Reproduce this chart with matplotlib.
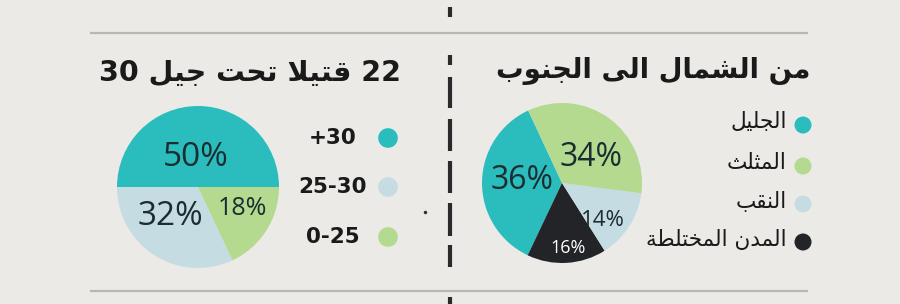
import numpy as np
import matplotlib
matplotlib.use("Agg")
import matplotlib.pyplot as plt

# ---------------- data ----------------
age_title = "22 قتيلا تحت جيل 30"
age_labels = ["+30", "25-30", "0-25"]
age_values = [50, 32, 18]

region_title = "من الشمال الى الجنوب"
region_labels = ["الجليل", "المثلث", "النقب", "المدن المختلطة"]
region_values = [36, 34, 14, 16]

# ---------------- style ----------------
BG = "#ebeae6"
TEAL = "#2bbdbd"
LBLUE = "#c6dce3"
GREEN = "#b3da8e"
BLACK = "#222428"
TXT = "#1b2d31"

age_colors = [TEAL, LBLUE, GREEN]
region_colors = [TEAL, GREEN, LBLUE, BLACK]
region_pie_order = [0, 3, 2, 1]   # drawing order around the pie

# ---------------- Arabic shaping (presentation forms) ----------------
FORMS = {
    'ا': ('\uFE8D', '\uFE8E', None, None),
    'ب': ('\uFE8F', '\uFE90', '\uFE91', '\uFE92'),
    'ة': ('\uFE93', '\uFE94', None, None),
    'ت': ('\uFE95', '\uFE96', '\uFE97', '\uFE98'),
    'ث': ('\uFE99', '\uFE9A', '\uFE9B', '\uFE9C'),
    'ج': ('\uFE9D', '\uFE9E', '\uFE9F', '\uFEA0'),
    'ح': ('\uFEA1', '\uFEA2', '\uFEA3', '\uFEA4'),
    'خ': ('\uFEA5', '\uFEA6', '\uFEA7', '\uFEA8'),
    'د': ('\uFEA9', '\uFEAA', None, None),
    'ش': ('\uFEB5', '\uFEB6', '\uFEB7', '\uFEB8'),
    'ط': ('\uFEC1', '\uFEC2', '\uFEC3', '\uFEC4'),
    'ق': ('\uFED5', '\uFED6', '\uFED7', '\uFED8'),
    'ل': ('\uFEDD', '\uFEDE', '\uFEDF', '\uFEE0'),
    'م': ('\uFEE1', '\uFEE2', '\uFEE3', '\uFEE4'),
    'ن': ('\uFEE5', '\uFEE6', '\uFEE7', '\uFEE8'),
    'و': ('\uFEED', '\uFEEE', None, None),
    'ى': ('\uFEEF', '\uFEF0', None, None),
    'ي': ('\uFEF1', '\uFEF2', '\uFEF3', '\uFEF4'),
}
LAMALEF = ('\uFEFB', '\uFEFC', None, None)


def shape_word(w):
    toks = []
    i = 0
    while i < len(w):
        if w[i] == 'ل' and i + 1 < len(w) and w[i + 1] == 'ا':
            toks.append(LAMALEF)
            i += 2
        else:
            toks.append(FORMS.get(w[i], (w[i], w[i], None, None)))
            i += 1
    out = []
    for k, f in enumerate(toks):
        pj = k > 0 and toks[k - 1][2] is not None
        nj = f[2] is not None and k + 1 < len(toks)
        if pj and nj:
            out.append(f[3])
        elif pj:
            out.append(f[1])
        elif nj:
            out.append(f[2])
        else:
            out.append(f[0])
    return "".join(out)


def rtl(text):
    parts = []
    for tok in text.split(" "):
        if any(c in FORMS for c in tok):
            parts.append(shape_word(tok)[::-1])
        else:
            parts.append(tok)
    return " ".join(parts[::-1])


# ---------------- figure ----------------
W, H = 900, 304
fig = plt.figure(figsize=(W / 100, H / 100), dpi=100)
fig.patch.set_facecolor(BG)

ov = fig.add_axes([0, 0, 1, 1])
ov.set_xlim(0, W)
ov.set_ylim(H, 0)
ov.axis("off")
ov.set_facecolor(BG)

# separators
for yy in (33, 291):
    ov.plot([90, 808], [yy, yy], color="#b9b7b1", lw=1.6, solid_capstyle="butt")
segs = [(7, 17), (55, 65), (77, 108), (119, 151), (161, 193), (203, 236), (245, 267), (297, 304)]
for a, b in segs:
    ov.plot([450, 450], [a, b], color="#2a2a2a", lw=3.0, solid_capstyle="butt")
ov.plot([425], [212], marker="o", ms=1.5, color="#333333")

ARFONT = "DejaVu Sans"

# titles
ov.text(401, 73, rtl(age_title), ha="right", va="center", fontsize=20.5,
        fontweight="bold", family=ARFONT, color="#1a1a1a")
ov.text(810, 71, rtl(region_title), ha="right", va="center", fontsize=19.8,
        fontweight="bold", family=ARFONT, color="#1a1a1a")

# left legend
age_y = [138, 187, 237]
for lab, col, yy in zip(age_labels, age_colors, age_y):
    ov.scatter([388], [yy], s=200, color=col, edgecolors="none")
    ov.text(333, yy, lab, ha="center", va="center", fontsize=15.5,
            fontweight="bold", family="DejaVu Sans", color="#1a1a1a")

# right legend
reg_y = [125, 166, 204, 242]
for lab, col, yy in zip(region_labels, region_colors, reg_y):
    ov.scatter([803], [yy], s=150, color=col, edgecolors="none")
    ov.text(787, yy - 3, rtl(lab), ha="right", va="center", fontsize=15.6,
            family=ARFONT, color="#1a1a1a")


def px_axes(cx, cy, r):
    return fig.add_axes([(cx - r) / W, (H - cy - r) / H, 2 * r / W, 2 * r / H])


PCTFONT = dict(family="Open Sans", fontweight="normal")

# left pie
axL = px_axes(198, 187, 81)
wedgesL, _ = axL.pie(age_values, colors=age_colors, startangle=0, counterclock=True,
                     wedgeprops=dict(linewidth=0))
axL.set_xlim(-1, 1); axL.set_ylim(-1, 1); axL.set_aspect("equal"); axL.axis("off")
left_style = [(0.37, 4, 24, TXT), (0.5, -10, 24, TXT), (0.61, 7, 18, TXT)]
for w, v, (d, da, fs, c) in zip(wedgesL, age_values, left_style):
    ang = np.deg2rad((w.theta1 + w.theta2) / 2 + da)
    axL.text(d * np.cos(ang), d * np.sin(ang), f"{v}%", ha="center", va="center",
             fontsize=fs, color=c, **PCTFONT)

# right pie
axR = px_axes(562, 183, 80)
vals = [region_values[i] for i in region_pie_order]
cols = [region_colors[i] for i in region_pie_order]
wedgesR, _ = axR.pie(vals, colors=cols, startangle=115, counterclock=True,
                     wedgeprops=dict(linewidth=0))
axR.set_xlim(-1, 1); axR.set_ylim(-1, 1); axR.set_aspect("equal"); axR.axis("off")
right_style = {0: (0.5, -3, 23, TXT), 3: (0.82, 2, 13, "white"),
               2: (0.69, -10, 16, TXT), 1: (0.48, -12, 23, TXT)}
for w, idx in zip(wedgesR, region_pie_order):
    d, da, fs, c = right_style[idx]
    ang = np.deg2rad((w.theta1 + w.theta2) / 2 + da)
    axR.text(d * np.cos(ang), d * np.sin(ang), f"{region_values[idx]}%", ha="center",
             va="center", fontsize=fs, color=c, **PCTFONT)

fig.savefig("out.png", dpi=100, facecolor=BG)
